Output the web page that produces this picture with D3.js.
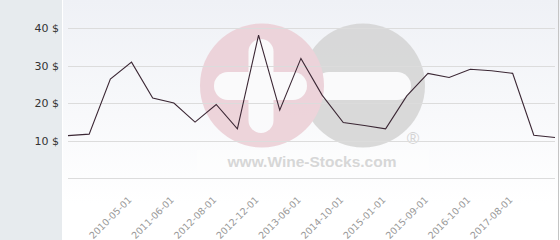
<!DOCTYPE html>
<html>
<head>
<meta charset="utf-8">
<script src="https://cdn.jsdelivr.net/npm/d3@7"></script>
<style>
  body { margin: 0; background: #fff; }
  svg { display: block; }
</style>
</head>
<body>
<div id="chart"></div>
<script>
// Prices, one per record
const prices = [11.3, 11.7, 26.4, 30.9, 21.3, 20.0, 14.9, 19.6, 13.1, 38.1, 18.1, 31.9,
                22.1, 14.8, 14.0, 13.1, 21.9, 27.9, 26.8, 29.0, 28.6, 27.9, 11.4, 10.8];
// Which records carry a date label, and the labels
const tickIndex = [3, 5, 7, 9, 11, 13, 15, 17, 19, 21];
const tickLabels = ["2010-05-01", "2011-06-01", "2012-08-01", "2012-12-01", "2013-06-01",
                    "2014-10-01", "2015-01-01", "2015-09-01", "2016-10-01", "2017-08-01"];
const yTicks = [0, 10, 20, 30, 40];

const width = 560, height = 240;
const margin = { top: 28, right: 5, bottom: 62, left: 68 };

const svg = d3.select("#chart")
  .append("svg")
  .attr("width", width)
  .attr("height", height);

// Background gradient for the plot area
const defs = svg.append("defs");
const grad = defs.append("linearGradient")
  .attr("id", "bg")
  .attr("x1", 0).attr("y1", 0).attr("x2", 0).attr("y2", 1);
grad.append("stop").attr("offset", "0%").attr("stop-color", "#eff1f6");
grad.append("stop").attr("offset", "85%").attr("stop-color", "#ffffff");

svg.append("rect")
  .attr("x", 63).attr("y", 0)
  .attr("width", width - 63).attr("height", height)
  .attr("fill", "url(#bg)");

// Left panel
svg.append("rect")
  .attr("x", 0).attr("y", 0)
  .attr("width", 62).attr("height", height)
  .attr("fill", "#e7ebee");

// Right border
svg.append("line")
  .attr("x1", 558.5).attr("x2", 558.5)
  .attr("y1", 0).attr("y2", height)
  .attr("stroke", "#c4c4c4");

// Scales
const x = d3.scalePoint()
  .domain(d3.range(prices.length))
  .range([margin.left, width - margin.right]);

const y = d3.scaleLinear()
  .domain([0, 40])
  .range([height - margin.bottom, margin.top]);

// Watermark
const wm = svg.append("g").attr("opacity", 0.9);
wm.append("circle").attr("cx", 363).attr("cy", 85.5).attr("r", 62).attr("fill", "#d6d6d6");
wm.append("rect").attr("x", 315).attr("y", 72).attr("width", 96).attr("height", 28)
  .attr("rx", 14).attr("fill", "#fbfbfc");
wm.append("circle").attr("cx", 262).attr("cy", 85.5).attr("r", 62).attr("fill", "#ecd0d7");
wm.append("rect").attr("x", 248.5).attr("y", 39).attr("width", 25).attr("height", 94)
  .attr("rx", 12.5).attr("fill", "#fbfbfc");
wm.append("rect").attr("x", 214).attr("y", 72).attr("width", 93).attr("height", 28)
  .attr("rx", 14).attr("fill", "#fbfbfc");
wm.append("rect").attr("x", 197).attr("y", 150).attr("width", 232).attr("height", 24)
  .attr("fill", "#ffffff").attr("opacity", 0.5);
wm.append("text")
  .attr("x", 312).attr("y", 167)
  .attr("text-anchor", "middle")
  .attr("font-family", "Liberation Sans, Arial, sans-serif")
  .attr("font-weight", "bold")
  .attr("font-size", "15.5px")
  .attr("fill", "#d3d3d3")
  .text("www.Wine-Stocks.com");
wm.append("text")
  .attr("x", 413).attr("y", 144)
  .attr("text-anchor", "middle")
  .attr("font-family", "Liberation Sans, Arial, sans-serif")
  .attr("font-size", "17px")
  .attr("fill", "#d0d0d0")
  .text("®");

// Grid lines
svg.append("g")
  .selectAll("line")
  .data(yTicks)
  .join("line")
  .attr("x1", margin.left).attr("x2", width - margin.right)
  .attr("y1", (d) => Math.round(y(d)) + 0.5)
  .attr("y2", (d) => Math.round(y(d)) + 0.5)
  .attr("stroke", "#dcdcdc");

// Y axis labels
const yAxis = d3.axisLeft(y)
  .tickValues(yTicks.filter((d) => d > 0))
  .tickFormat((d) => d + " $")
  .tickSize(0)
  .tickPadding(0);

svg.append("g")
  .attr("transform", "translate(59,0)")
  .call(yAxis)
  .call((g) => g.select(".domain").remove())
  .call((g) => g.selectAll("text")
    .attr("font-family", "DejaVu Sans, sans-serif")
    .attr("font-size", "11px")
    .attr("fill", "#333"));

// X axis labels
const xAxis = d3.axisBottom(x)
  .tickValues(tickIndex)
  .tickFormat((d) => tickLabels[tickIndex.indexOf(d)])
  .tickSize(0);

svg.append("g")
  .attr("transform", "translate(0,196)")
  .call(xAxis)
  .call((g) => g.select(".domain").remove())
  .call((g) => g.selectAll("text")
    .attr("font-family", "DejaVu Sans, sans-serif")
    .attr("font-size", "9.5px")
    .attr("fill", "#999")
    .attr("text-anchor", "end")
    .attr("dy", "0.35em")
    .attr("y", 0)
    .attr("x", -3)
    .attr("transform", "rotate(-45)"));

// Price line
const line = d3.line()
  .x((d, i) => x(i))
  .y((d) => y(d));

svg.append("path")
  .datum(prices)
  .attr("d", line)
  .attr("fill", "none")
  .attr("stroke", "#3b2734")
  .attr("stroke-width", 1.1);
</script>
</body>
</html>
